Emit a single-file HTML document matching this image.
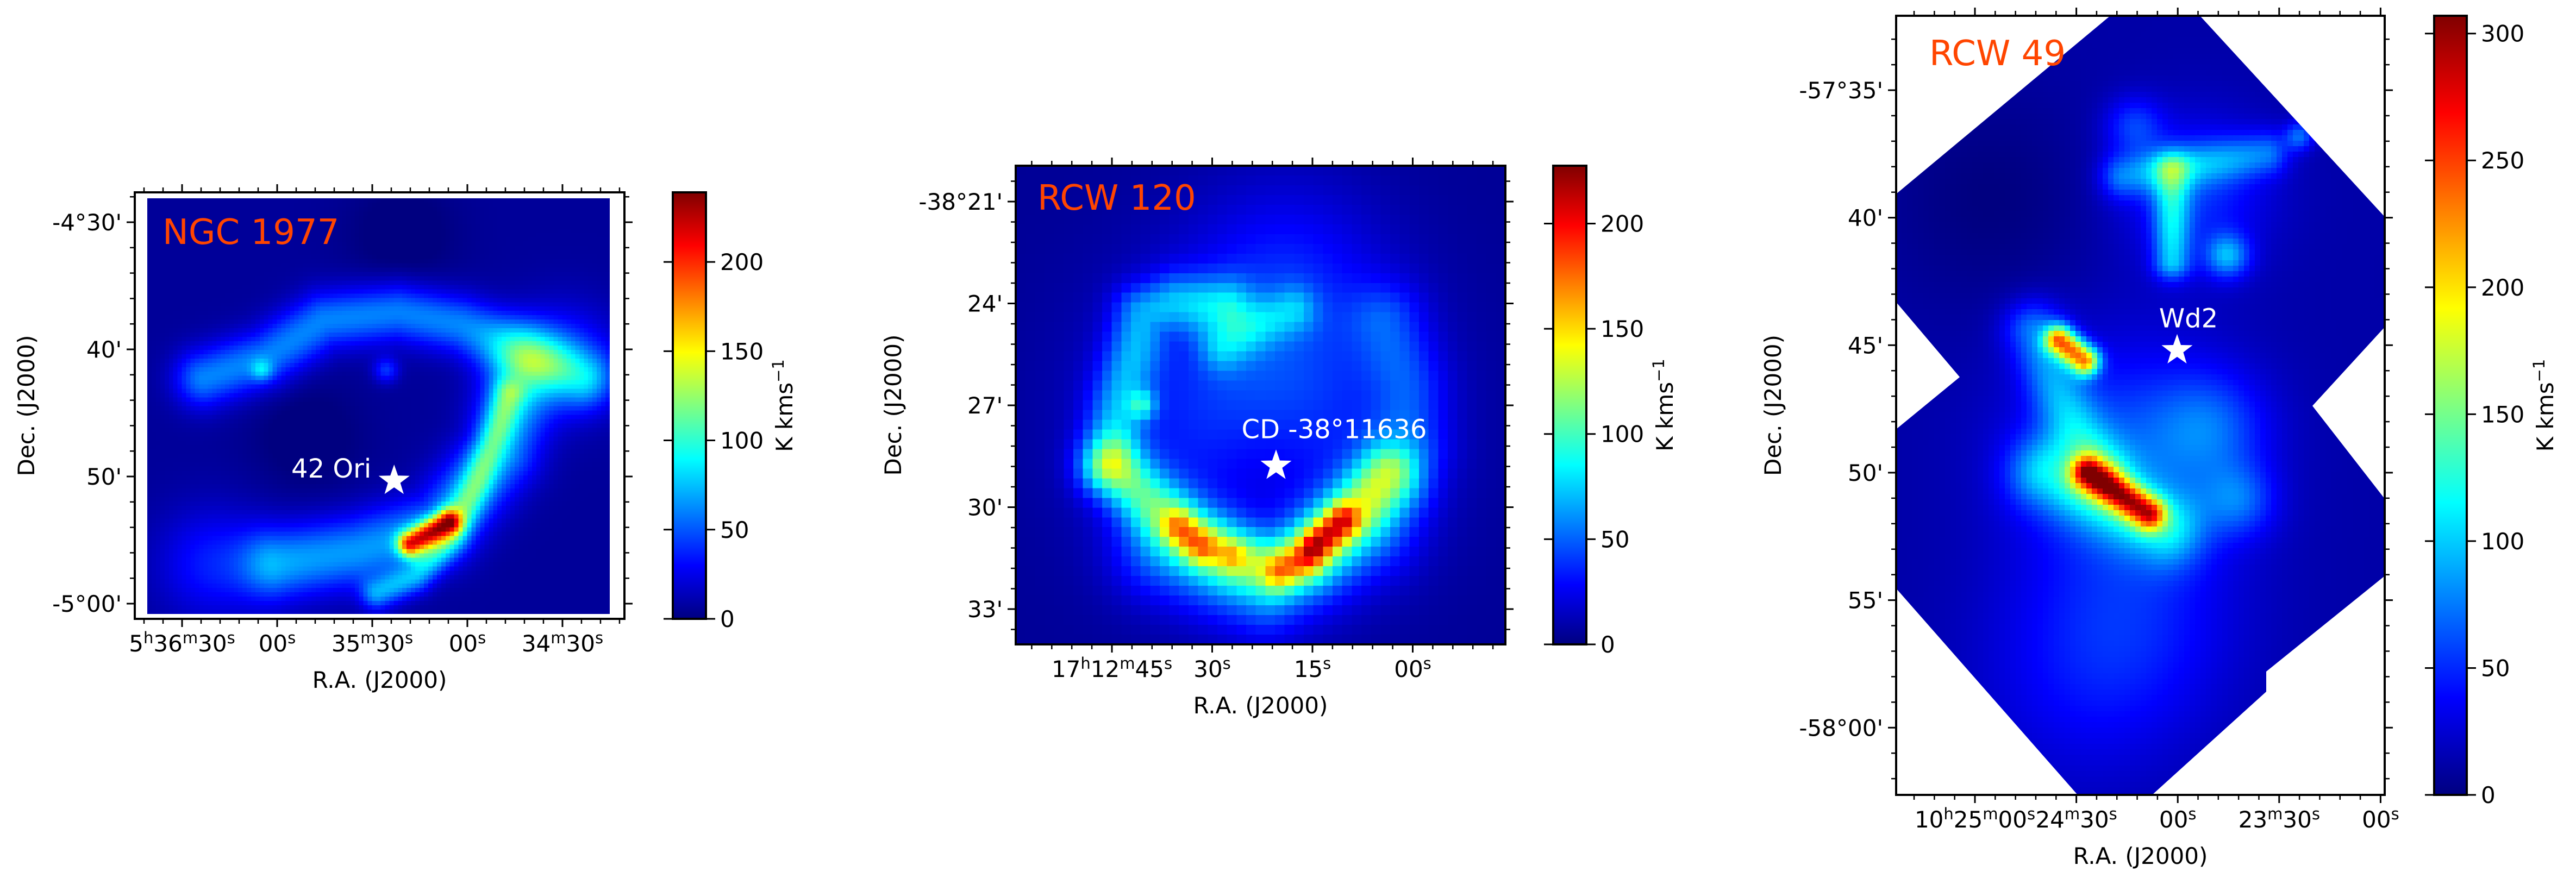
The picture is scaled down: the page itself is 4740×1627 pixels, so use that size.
<!DOCTYPE html>
<html>
<head>
<meta charset="utf-8">
<style>
  html,body{margin:0;padding:0;background:#fff;}
  #root{position:relative;width:4740px;height:1627px;background:#fff;overflow:hidden;font-family:"DejaVu Sans","Liberation Sans",sans-serif;}
  canvas{position:absolute;image-rendering:pixelated;}
  #ov{position:absolute;left:0;top:0;}
</style>
</head>
<body>
<div id="root">
  <canvas id="map1"></canvas>
  <canvas id="map2"></canvas>
  <canvas id="map3"></canvas>
  <svg id="ov" width="4740" height="1627" xmlns="http://www.w3.org/2000/svg"></svg>
</div>
<script>
// ===== Data: NGC 1977 (RA seconds after 5h, Dec arcmin past -4 deg) =====
const ngcRaTicks = [2190, 2160, 2130, 2100, 2070];
const ngcRaLabels = ["5^h36^m30^s", "00^s", "35^m30^s", "00^s", "34^m30^s"];
const ngcDecTicks = [30, 40, 50, 60];
const ngcDecLabels = ["-4°30'", "40'", "50'", "-5°00'"];
const ngcCbarTicks = [0, 50, 100, 150, 200];
const ngcVmax = 239;
const ngcBase = 6;
const ngcFeatRa = [[2117.5, 2105.5],[2127.9, 2116.0, 2104.2, 2096.4, 2089.8, 2086.5],[2160.0, 2134.4, 2108.2, 2088.5, 2082.0],[2183.0, 2163.3, 2144.9, 2121.3, 2101.6, 2082.0, 2062.3],[2164.6],[2125.2],[2180.3],[2068.8],[2150.0],[2120.0]];
const ngcFeatDec = [[55.4, 53.7],[59.35, 58.04, 54.77, 50.52, 46.27, 43.65],[57.0, 56.0, 54.1, 48.2, 41.7],[42.34, 40.71, 37.77, 37.11, 38.1, 40.05, 42.34],[41.7],[41.7],[57.0],[41.0],[47.0],[31.0]];
const ngcFeatAmp = [150, 55, 60, 55, 35, 35, 30, 35, -10, -10];
const ngcFeatWidth = [0.7, 0.9, 2.0, 1.6, 0.6, 0.7, 3.0, 3.0, 3.0, 3.0];
const ngcStar = {ra: 2123.1, dec: 50.34, label: "42 Ori"};

// ===== Data: RCW 120 (RA seconds after 17h12m, Dec arcmin past -38 deg) =====
const rcw120RaTicks = [45, 30, 15, 0];
const rcw120RaLabels = ["17^h12^m45^s", "30^s", "15^s", "00^s"];
const rcw120DecTicks = [21, 24, 27, 30, 33];
const rcw120DecLabels = ["-38°21'", "24'", "27'", "30'", "33'"];
const rcw120CbarTicks = [0, 50, 100, 150, 200];
const rcw120Vmax = 227.5;
const rcw120Base = 5;
const rcw120FeatRa = [[22.1],[44.47, 38.25, 32.66, 26.44, 20.22, 15.24, 10.89, 6.53, 2.8],[34.5, 31.0],[13.5, 9.5],[19.0, 15.5],[26.4],[37.0, 21.5, 5.9],[45.1, 43.85, 41.4, 40.1, 35.1, 27.7],[27.7, 21.5, 17.1],[2.8, -0.3, -0.9, 0.9],[18],[40.1],[21.5]];
const rcw120FeatDec = [[27.63],[28.86, 29.96, 30.81, 31.43, 31.79, 31.43, 30.69, 29.84, 28.98],[30.6, 31.2],[31.1, 30.4],[31.9, 31.6],[31.43],[31.3, 32.5, 30.7],[28.6, 27.0, 25.4, 24.3, 23.96, 24.08],[25.3, 24.57, 24.2],[24.57, 26.4, 28.24, 29.2],[23],[27],[28.9]];
const rcw120FeatAmp = [45, 75, 55, 80, 50, 35, 40, 50, 35, 30, 20, 45, -20];
const rcw120FeatWidth = [3.0, 0.65, 0.35, 0.35, 0.35, 0.3, 1.0, 0.6, 0.5, 0.8, 2.0, 0.3, 1.5];
const rcw120Star = {ra: 20.45, dec: 28.78, label: "CD -38°11636"};

// ===== Data: RCW 49 (RA seconds after 10h, Dec arcmin past -57 deg) =====
const rcw49RaTicks = [1500, 1470, 1440, 1410, 1380];
const rcw49RaLabels = ["10^h25^m00^s", "24^m30^s", "00^s", "23^m30^s", "00^s"];
const rcw49DecTicks = [35, 40, 45, 50, 55, 60];
const rcw49DecLabels = ["-57°35'", "40'", "45'", "50'", "55'", "-58°00'"];
const rcw49CbarTicks = [0, 50, 100, 150, 200, 250, 300];
const rcw49Vmax = 307;
const rcw49Base = 12;
const rcw49FeatRa = [[1475.0, 1467.5],[1466.5, 1448.5],[1479.4, 1443.3],[1482.7, 1474.5, 1469.6, 1463.0],[1441.7, 1441.7],[1456.4, 1413.8],[1425.3],[1404],[1453],[1454.8],[1430.2],[1422],[1454.8],[1495.8],[1435],[1470.0]];
const rcw49FeatDec = [[44.8, 45.6],[50.0, 51.6],[50.0, 52.2],[44.41, 47.09, 48.43, 49.77],[38.16, 41.73],[38.38, 37.49],[41.5],[36.8],[36.4],[49.3],[48.2],[51.1],[56.0],[39.3],[39.0],[58.5]];
const rcw49FeatAmp = [190, 170, 70, 60, 75, 55, 70, 55, 40, 50, 40, 45, 30, -12, 40, 15];
const rcw49FeatWidth = [0.4, 0.45, 1.0, 0.8, 0.5, 0.6, 0.6, 0.4, 0.8, 3.0, 1.5, 1.0, 3.0, 3.0, 2.0, 3.0];
const rcw49Star = {ra: 1440.2, dec: 45.2, label: "Wd2"};

// ===== Layout / axis functions =====
const panels = [
  {key:"ngc1977", title:"NGC 1977", canvas:"map1",
   frame:[248,354,1149,1139], img:[271,365,1122,1130], cbar:[1238,354,1299,1139], cell:8,
   xOf: ra => 335 + (2190 - ra) * 5.833, yOf: d => 409 + (d - 30) * 23.4, ppa: 23.4,
   raMinor:6, decMinor:2, raTicks:ngcRaTicks, raLabels:ngcRaLabels, decTicks:ngcDecTicks, decLabels:ngcDecLabels,
   cbarTicks:ngcCbarTicks, vmax:ngcVmax, base:ngcBase, fRa:ngcFeatRa, fDec:ngcFeatDec, fAmp:ngcFeatAmp, fW:ngcFeatWidth,
   star:ngcStar, starLab:{dx:-42, dy:-6, anchor:"end"}, titlePos:[299,449], decLabOff:200, mask:null},
  {key:"rcw120", title:"RCW 120", canvas:"map2",
   frame:[1869,305,2770,1186], img:[1869,305,2770,1186], cbar:[2858,305,2919,1186], cell:18,
   xOf: ra => 2046 + (45 - ra) * 12.3, yOf: d => 371 + (d - 21) * 62.5, ppa: 62.5,
   raMinor:3, decMinor:0.6, raTicks:rcw120RaTicks, raLabels:rcw120RaLabels, decTicks:rcw120DecTicks, decLabels:rcw120DecLabels,
   cbarTicks:rcw120CbarTicks, vmax:rcw120Vmax, base:rcw120Base, fRa:rcw120FeatRa, fDec:rcw120FeatDec, fAmp:rcw120FeatAmp, fW:rcw120FeatWidth,
   star:rcw120Star, starLab:{dx:107, dy:-51, anchor:"middle"}, titlePos:[1909,386], decLabOff:226, mask:null},
  {key:"rcw49", title:"RCW 49", canvas:"map3",
   frame:[3489,29,4388,1463], img:[3489,29,4388,1463], cbar:[4479,29,4539,1463], cell:10,
   xOf: ra => 3634 + (1500 - ra) * 6.22, yOf: d => 166 + (d - 35) * 46.93, ppa: 46.93,
   raMinor:6, decMinor:1, raTicks:rcw49RaTicks, raLabels:rcw49RaLabels, decTicks:rcw49DecTicks, decLabels:rcw49DecLabels,
   cbarTicks:rcw49CbarTicks, vmax:rcw49Vmax, base:rcw49Base, fRa:rcw49FeatRa, fDec:rcw49FeatDec, fAmp:rcw49FeatAmp, fW:rcw49FeatWidth,
   star:rcw49Star, starLab:{dx:21, dy:-42, anchor:"middle"}, titlePos:[3550,120], decLabOff:227,
   mask:[[3883,29],[4048,29],[4388,399],[4388,602],[4255,747],[4388,918],[4388,1060],[4170,1236],[4170,1273],[3960,1463],[3823,1463],[3489,1083],[3489,790],[3606,694],[3489,556],[3489,357]]}
];

function jet(t){
  t = Math.max(0, Math.min(1, t));
  const c = x => Math.max(0, Math.min(1, x));
  return [c(1.5 - Math.abs(4*t - 3)), c(1.5 - Math.abs(4*t - 2)), c(1.5 - Math.abs(4*t - 1))];
}
function segDist2(px,py,ax,ay,bx,by){
  const dx=bx-ax, dy=by-ay, L=dx*dx+dy*dy;
  let t = L>0 ? ((px-ax)*dx+(py-ay)*dy)/L : 0;
  t = Math.max(0, Math.min(1, t));
  const qx=ax+t*dx-px, qy=ay+t*dy-py;
  return qx*qx+qy*qy;
}

const SVGNS = "http://www.w3.org/2000/svg";
const ov = document.getElementById("ov");
function mk(tag, attrs, parent){
  const e = document.createElementNS(SVGNS, tag);
  for (const k in attrs) e.setAttribute(k, attrs[k]);
  (parent||ov).appendChild(e);
  return e;
}
function addLabel(parent, str, x, y, anchor, fs){
  const t = mk("text", {x:x, y:y, "text-anchor":anchor, "font-size":fs, fill:"#000"}, parent);
  const parts = str.split(/(\^[hms])/);
  parts.forEach(p => {
    if (!p) return;
    const ts = document.createElementNS(SVGNS, "tspan");
    if (p[0] === "^") { ts.textContent = p[1]; ts.setAttribute("font-size", Math.round(fs*0.7)); ts.setAttribute("dy", -15); }
    else { ts.textContent = p; if (t.childNodes.length) ts.setAttribute("dy", 15); }
    t.appendChild(ts);
  });
  return t;
}

const defs = mk("defs", {});
const grad = mk("linearGradient", {id:"jetgrad", x1:0, y1:1, x2:0, y2:0}, defs);
for (let i=0;i<=40;i++){
  const t=i/40, c=jet(t);
  mk("stop", {offset:t, "stop-color":`rgb(${Math.round(c[0]*255)},${Math.round(c[1]*255)},${Math.round(c[2]*255)})`}, grad);
}

panels.forEach(p => {
  const [ix0,iy0,ix1,iy1] = p.img;
  const W = ix1-ix0, H = iy1-iy0;
  const cw = Math.ceil(W/p.cell), ch = Math.ceil(H/p.cell);
  const cv = document.getElementById(p.canvas);
  cv.width = cw; cv.height = ch;
  cv.style.left = ix0+"px"; cv.style.top = iy0+"px";
  cv.style.width = (cw*p.cell)+"px"; cv.style.height = (ch*p.cell)+"px";
  if (p.mask) cv.style.clipPath = "polygon(" + p.mask.map(q => (q[0]-ix0)+"px "+(q[1]-iy0)+"px").join(",") + ")";
  else { cv.style.width = W+"px"; cv.style.height = H+"px"; }
  const feats = p.fRa.map((ras,i) => ({pts: ras.map((r,j) => [p.xOf(r), p.yOf(p.fDec[i][j])]), amp:p.fAmp[i], w:p.fW[i]*p.ppa}));
  const ctx = cv.getContext("2d");
  const im = ctx.createImageData(cw, ch);
  for (let j=0;j<ch;j++) for (let i=0;i<cw;i++){
    const px = ix0 + (i+0.5)*p.cell, py = iy0 + (j+0.5)*p.cell;
    let v = p.base;
    feats.forEach(f => {
      let d2;
      if (f.pts.length === 1) { const dx=px-f.pts[0][0], dy=py-f.pts[0][1]; d2=dx*dx+dy*dy; }
      else { d2 = Infinity; for (let k=0;k<f.pts.length-1;k++) d2 = Math.min(d2, segDist2(px,py,f.pts[k][0],f.pts[k][1],f.pts[k+1][0],f.pts[k+1][1])); }
      v += f.amp * Math.exp(-d2/(2*f.w*f.w));
    });
    const c = jet(v/p.vmax), o=(j*cw+i)*4;
    im.data[o]=c[0]*255; im.data[o+1]=c[1]*255; im.data[o+2]=c[2]*255; im.data[o+3]=255;
  }
  ctx.putImageData(im,0,0);

  const g = mk("g", {});
  
  
  const [x0,y0,x1,y1] = p.frame;
  const frame = mk("rect", {x:x0, y:y0, width:x1-x0, height:y1-y0, fill:"none", stroke:"#000", "stroke-width":4}, g);
  
  
  const raA = p.raTicks[0], step = p.raTicks[0]-p.raTicks[1];
  for (let k=-40;k<=200;k++){
    const ra = raA - k*p.raMinor;
    const x = p.xOf(ra);
    if (x < x0-0.5 || x > x1+0.5) continue;
    const major = Math.abs(((raA-ra)/step) - Math.round((raA-ra)/step)) < 1e-6;
    const L = major?15:9, sw = major?3:2.5;
    mk("line", {x1:x, y1:y1, x2:x, y2:y1+L, stroke:"#000", "stroke-width":sw}, g);
    mk("line", {x1:x, y1:y0, x2:x, y2:y0-L, stroke:"#000", "stroke-width":sw}, g);
  }
  p.raTicks.forEach((ra,i) => {
    const t = addLabel(g, p.raLabels[i], p.xOf(ra), y1+60, "middle", 42);
    
    
  });
  const dA = p.decTicks[0], dStep = p.decTicks[1]-p.decTicks[0];
  for (let k=-40;k<=200;k++){
    const d = +(dA + k*p.decMinor).toFixed(4);
    const y = p.yOf(d);
    if (y < y0-0.5 || y > y1+0.5) continue;
    const r = (d-dA)/dStep, major = Math.abs(r-Math.round(r)) < 1e-6;
    const L = major?15:9, sw = major?3:2.5;
    mk("line", {x1:x0, y1:y, x2:x0-L, y2:y, stroke:"#000", "stroke-width":sw}, g);
    mk("line", {x1:x1, y1:y, x2:x1+L, y2:y, stroke:"#000", "stroke-width":sw}, g);
  }
  p.decTicks.forEach((d,i) => {
    const t = addLabel(g, p.decLabels[i], x0-24, p.yOf(d)+15, "end", 42);
    
    
  });
  const ral = mk("text", {x:(x0+x1)/2, y:y1+127, "text-anchor":"middle", "font-size":42, fill:"#000"}, g);
  ral.textContent = "R.A. (J2000)";
  
  
  const dcx = x0 - p.decLabOff, dcy = (y0+y1)/2;
  const dl = mk("text", {x:dcx, y:dcy+15, "text-anchor":"middle", "font-size":42, fill:"#000", transform:`rotate(-90 ${dcx} ${dcy})`}, g);
  dl.textContent = "Dec. (J2000)";
  
  
  const tt = mk("text", {x:p.titlePos[0], y:p.titlePos[1], "font-size":64, fill:"#ff4500"}, g);
  tt.textContent = p.title;
  
  
  const sx = p.xOf(p.star.ra), sy = p.yOf(p.star.dec), R=30, r=R*0.4;
  let pts=[];
  for (let k=0;k<10;k++){ const a=-Math.PI/2 + k*Math.PI/5, rr = k%2?r:R; pts.push((sx+rr*Math.cos(a)).toFixed(1)+","+(sy+rr*Math.sin(a)).toFixed(1)); }
  const st = mk("polygon", {points:pts.join(" "), fill:"#fff"}, g);
  
  
  const sl = mk("text", {x:sx+p.starLab.dx, y:sy+p.starLab.dy, "text-anchor":p.starLab.anchor, "font-size":48, fill:"#fff"}, g);
  sl.textContent = p.star.label;
  
  
  const [cx0,cy0,cx1,cy1] = p.cbar;
  const cb = mk("rect", {x:cx0, y:cy0, width:cx1-cx0, height:cy1-cy0, fill:"url(#jetgrad)", stroke:"#000", "stroke-width":4}, g);
  
  
  const cyOf = v => cy1 - v/p.vmax*(cy1-cy0);
  p.cbarTicks.forEach(v => {
    const y = cyOf(v);
    mk("line", {x1:cx1, y1:y, x2:cx1+17, y2:y, stroke:"#000", "stroke-width":3}, g);
    mk("line", {x1:cx0, y1:y, x2:cx0-17, y2:y, stroke:"#000", "stroke-width":3}, g);
    const t = mk("text", {x:cx1+26, y:y+15, "font-size":42, fill:"#000"}, g);
    t.textContent = String(v);
    
    
  });
  const lx = cx1+144, ly=(cy0+cy1)/2;
  const cl = mk("text", {x:lx, y:ly+15, "text-anchor":"middle", "font-size":42, fill:"#000", transform:`rotate(-90 ${lx} ${ly})`}, g);
  
  
  const t1 = document.createElementNS(SVGNS,"tspan"); t1.textContent="K kms"; cl.appendChild(t1);
  const t2 = document.createElementNS(SVGNS,"tspan"); t2.textContent="−1"; t2.setAttribute("font-size",29); t2.setAttribute("dy",-16); cl.appendChild(t2);
});
</script>
</body>
</html>
